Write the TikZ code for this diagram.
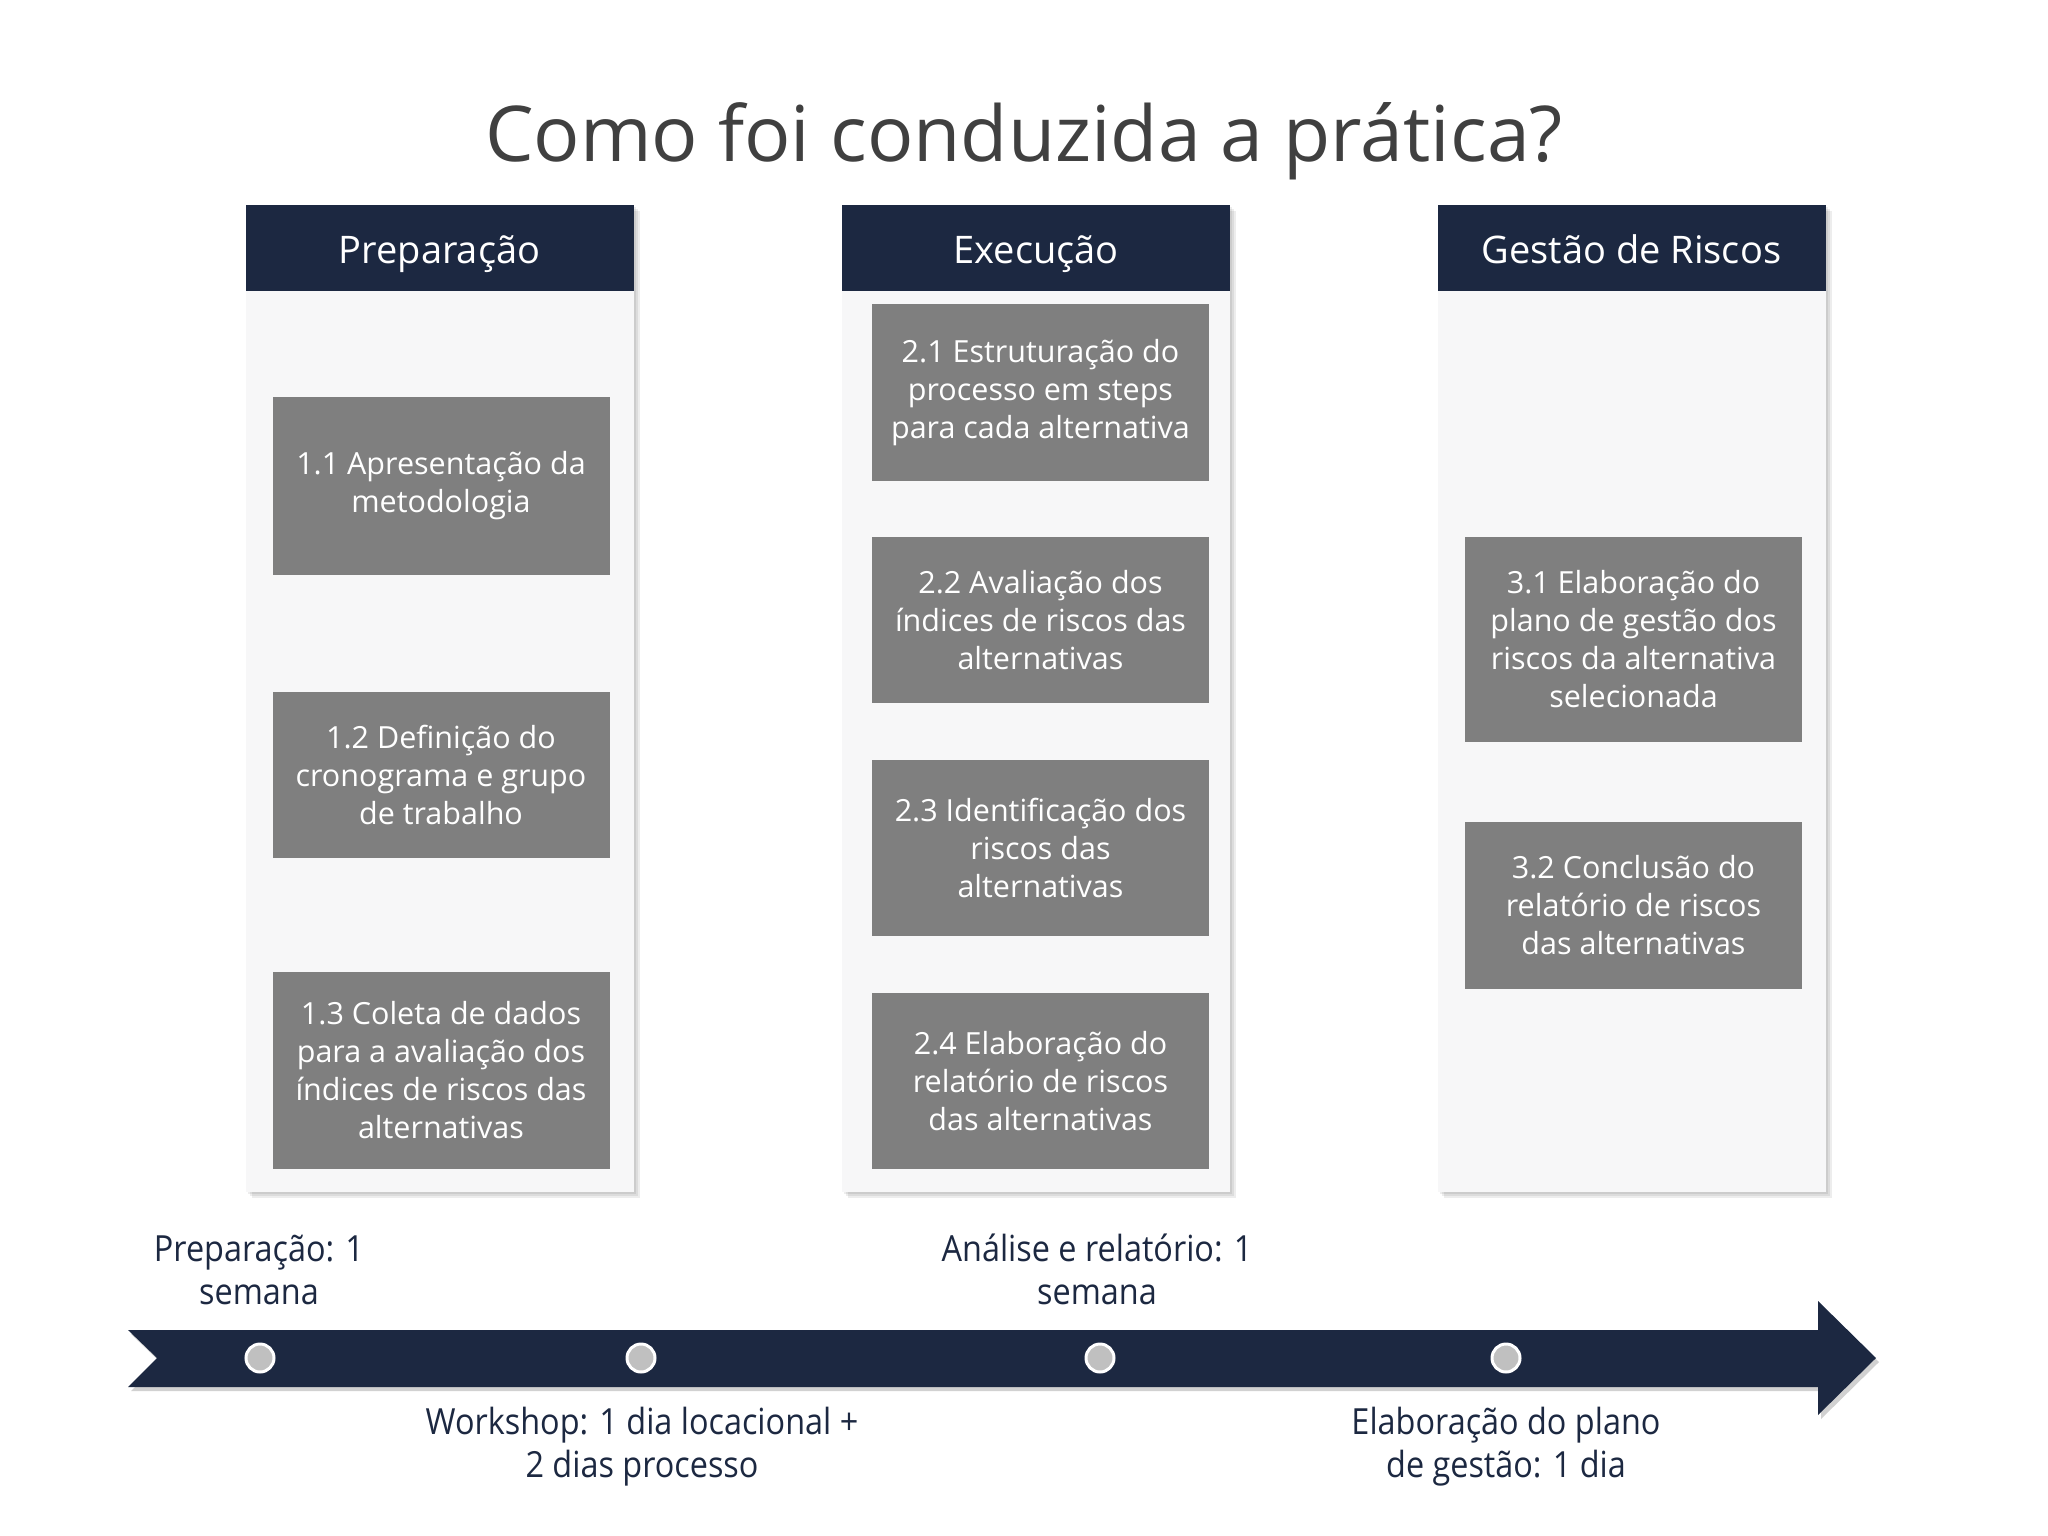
\documentclass[tikz,border=0pt]{standalone}
\usepackage{fontspec}
\setmainfont{Open Sans}
\newfontfamily\condfont[FakeStretch=0.9]{Open Sans}
\definecolor{navy}{HTML}{1C2841}
\definecolor{boxgrey}{HTML}{7F7F7F}
\definecolor{colbg}{HTML}{F7F7F8}
\definecolor{titlegrey}{HTML}{404040}
\definecolor{dotgrey}{HTML}{C0C0C0}
\begin{document}
\begin{tikzpicture}[x=1pt,y=-1pt,
  header/.style={fill=navy, text=white, minimum width=388pt, minimum height=86pt, inner sep=0pt, text height=38pt, text depth=8pt, font=\fontsize{38}{46}\selectfont},
  colbody/.style={fill=colbg, minimum width=388pt, minimum height=901pt, inner sep=0pt},
  stepbox/.style={fill=boxgrey, text=white, inner sep=0pt, align=center, minimum width=337pt, font=\fontsize{30.5}{38}\selectfont},
  tllabel/.style={text=navy, align=center, font=\condfont\fontsize{36}{43}\selectfont},
  tldot/.style={circle, fill=dotgrey, draw=white, line width=3pt, minimum size=28pt, inner sep=0pt},
  shade/.style={fill=black, opacity=0.07}
]
\useasboundingbox (0,0) rectangle (2048,1536);
\fill[white] (0,0) rectangle (2048,1536);

% title
\node[text=titlegrey, font=\fontsize{77}{90}\selectfont, anchor=base] (title) at (1024,161) {Como foi conduzida a prática?};

% column shadows
\foreach \cx in {439.5,1036,1631.5}{
  \foreach \o in {2,4,6}{
    \fill[shade] (\cx-194+\o,205+\o) rectangle (\cx+194+\o,1192+\o);
  }
}

% columns
\node[colbody] (body1) at (439.5,741.5) {};
\node[colbody] (body2) at (1036,741.5) {};
\node[colbody] (body3) at (1631.5,741.5) {};
\node[header] (head1) at (439.5,248) {Preparação};
\node[header] (head2) at (1036,248) {Execução};
\node[header] (head3) at (1631.5,248) {Gestão de Riscos};

% step boxes
\node[stepbox, minimum height=178pt] (s11) at (441,486) {1.1 Apresentação da\\metodologia};
\node[stepbox, minimum height=166pt] (s12) at (441,775) {1.2 Definição do\\cronograma e grupo\\de trabalho};
\node[stepbox, minimum height=197pt] (s13) at (441,1070.5) {1.3 Coleta de dados\\para a avaliação dos\\índices de riscos das\\alternativas};

\node[stepbox, minimum height=177pt] (s21) at (1040.5,392.5) {2.1 Estruturação do\\processo em steps\\para cada alternativa};
\node[stepbox, minimum height=166pt] (s22) at (1040.5,620) {2.2 Avaliação dos\\índices de riscos das\\alternativas};
\node[stepbox, minimum height=176pt] (s23) at (1040.5,848) {2.3 Identificação dos\\riscos das\\alternativas};
\node[stepbox, minimum height=176pt] (s24) at (1040.5,1081) {2.4 Elaboração do\\relatório de riscos\\das alternativas};

\node[stepbox, minimum height=205pt] (s31) at (1633.5,639.5) {3.1 Elaboração do\\plano de gestão dos\\riscos da alternativa\\selecionada};
\node[stepbox, minimum height=167pt] (s32) at (1633.5,905.5) {3.2 Conclusão do\\relatório de riscos\\das alternativas};

% timeline arrow
\fill[black, opacity=0.18] (131,1334) -- (1821,1334) -- (1821,1305) -- (1879,1362) -- (1821,1419) -- (1821,1391) -- (131,1391) -- (160,1362) -- cycle;
\fill[navy] (128,1330) -- (1818,1330) -- (1818,1301) -- (1876,1358) -- (1818,1415) -- (1818,1387) -- (128,1387) -- (157,1358) -- cycle;

\node[tldot] (d1) at (260,1358) {};
\node[tldot] (d2) at (641,1358) {};
\node[tldot] (d3) at (1100,1358) {};
\node[tldot] (d4) at (1506,1358) {};

\node[tllabel] (l1) at (259,1269.5) {Preparação: 1\\semana};
\node[tllabel] (l3) at (1097,1269.5) {Análise e relatório: 1\\semana};
\node[tllabel] (l2) at (642,1446.5) {Workshop: 1 dia locacional +\\2 dias processo};
\node[tllabel] (l4) at (1506,1446.5) {Elaboração do plano\\de gestão: 1 dia};
\end{tikzpicture}
\end{document}
